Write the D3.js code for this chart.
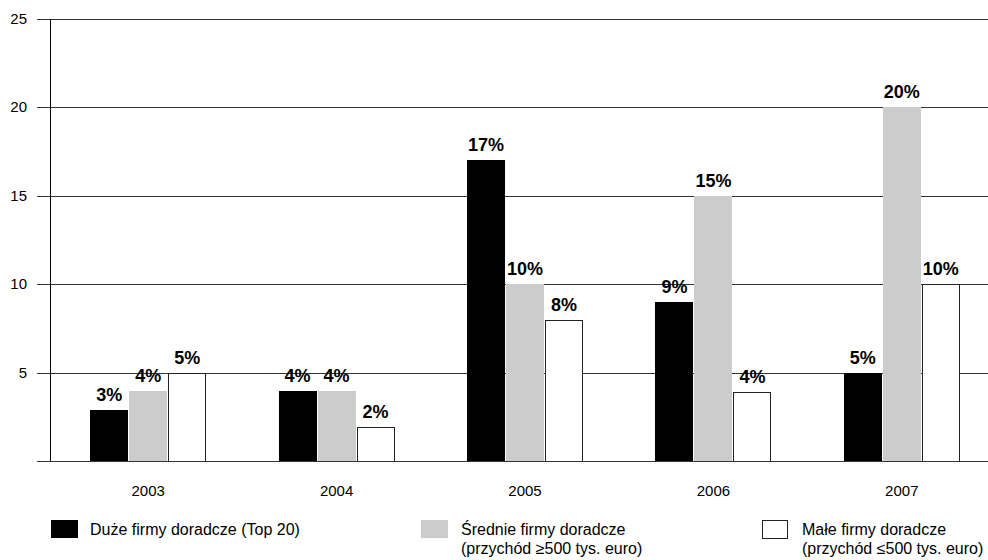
<!DOCTYPE html>
<html>
<head>
<meta charset="utf-8">
<script src="https://cdn.jsdelivr.net/npm/d3@7"></script>
<style>
  body { margin: 0; background: #fff; }
  text { font-family: "Liberation Sans", Arial, sans-serif; }
</style>
</head>
<body>
<svg id="chart"></svg>
<script>
// data (bar heights, labels are rounded)
const years = ["2003", "2004", "2005", "2006", "2007"];
const duze = [2.9, 3.95, 17, 9, 5];
const srednie = [3.95, 3.95, 10, 15, 20];
const male = [5, 1.9, 8, 3.9, 10];
const yTicks = [5, 10, 15, 20, 25];

const seriesNames = ["Duże firmy doradcze (Top 20)", "Średnie firmy doradcze", "Małe firmy doradcze"];
const seriesSub = [null, "(przychód ≥500 tys. euro)", "(przychód ≤500 tys. euro)"];
const seriesValues = [duze, srednie, male];

const width = 988;
const height = 560;
const fills = ["#000000", "#cccccc", "#ffffff"];

const svg = d3.select("#chart")
    .attr("width", width)
    .attr("height", height);

// scales
const x = d3.scaleBand()
    .domain(years)
    .range([54, 996]);

const y = d3.scaleLinear()
    .domain([0, 25])
    .range([461, 19]);

const barW = 38;
const gap = 1;
const groupW = barW * 3 + gap * 2;

// gridlines
svg.append("g")
    .selectAll("line")
    .data(yTicks)
    .enter()
    .append("line")
    .attr("x1", 37)
    .attr("x2", width)
    .attr("y1", d => Math.round(y(d)) + 0.5)
    .attr("y2", d => Math.round(y(d)) + 0.5)
    .attr("stroke", "#333")
    .attr("stroke-width", 1);

// y tick labels
svg.append("g")
    .selectAll("text")
    .data(yTicks)
    .enter()
    .append("text")
    .attr("x", 27)
    .attr("y", d => y(d) + 5)
    .attr("text-anchor", "end")
    .attr("font-size", 15)
    .text(d => d);

// bars
seriesValues.forEach((vals, s) => {
    const g = svg.append("g");
    g.selectAll("rect")
        .data(vals)
        .enter()
        .append("rect")
        .attr("x", (d, i) => Math.round(x(years[i]) + x.bandwidth() / 2 - groupW / 2 + s * (barW + gap)) + (s === 2 ? 0.5 : 0))
        .attr("y", d => Math.round(y(d)) + (s === 2 ? 0.5 : 0))
        .attr("width", s === 2 ? barW - 1 : barW)
        .attr("height", d => Math.round(y(0)) - Math.round(y(d)))
        .attr("fill", fills[s])
        .attr("stroke", s === 2 ? "#222" : "none")
        .attr("stroke-width", 1);

    g.selectAll("text")
        .data(vals)
        .enter()
        .append("text")
        .attr("x", (d, i) => x(years[i]) + x.bandwidth() / 2 - groupW / 2 + s * (barW + gap) + barW / 2)
        .attr("y", d => y(d) - 9)
        .attr("text-anchor", "middle")
        .attr("font-size", 18)
        .attr("font-weight", "bold")
        .text(d => Math.round(d) + "%");
});

// axes lines
svg.append("line")
    .attr("x1", 37).attr("x2", width)
    .attr("y1", Math.round(y(0)) + 0.5).attr("y2", Math.round(y(0)) + 0.5)
    .attr("stroke", "#333");

svg.append("line")
    .attr("x1", 50.5).attr("x2", 50.5)
    .attr("y1", Math.round(y(25))).attr("y2", Math.round(y(0)) + 1)
    .attr("stroke", "#000");

// x labels
svg.append("g")
    .selectAll("text")
    .data(years)
    .enter()
    .append("text")
    .attr("x", d => x(d) + x.bandwidth() / 2)
    .attr("y", 496)
    .attr("text-anchor", "middle")
    .attr("font-size", 15)
    .text(d => d);

// legend
const legendX = [51, 421, 762];
const legend = svg.selectAll(".legend")
    .data(seriesNames)
    .enter()
    .append("g")
    .attr("class", "legend")
    .attr("transform", (d, i) => `translate(${legendX[i]}, 520)`);

legend.append("rect")
    .attr("x", (d, i) => i === 2 ? 0.5 : 0)
    .attr("y", (d, i) => i === 2 ? 0.5 : 0)
    .attr("width", (d, i) => i === 2 ? 25 : 27)
    .attr("height", (d, i) => i === 2 ? 18 : 18)
    .attr("fill", (d, i) => fills[i])
    .attr("stroke", (d, i) => i === 2 ? "#222" : "none");

legend.append("text")
    .attr("x", (d, i) => i === 0 ? 39 : i === 1 ? 40 : 40)
    .attr("y", 15)
    .attr("font-size", 16)
    .text(d => d);

legend.append("text")
    .attr("x", (d, i) => i === 1 ? 40 : 40)
    .attr("y", 34)
    .attr("font-size", 16)
    .text((d, i) => seriesSub[i] || "");
</script>
</body>
</html>
